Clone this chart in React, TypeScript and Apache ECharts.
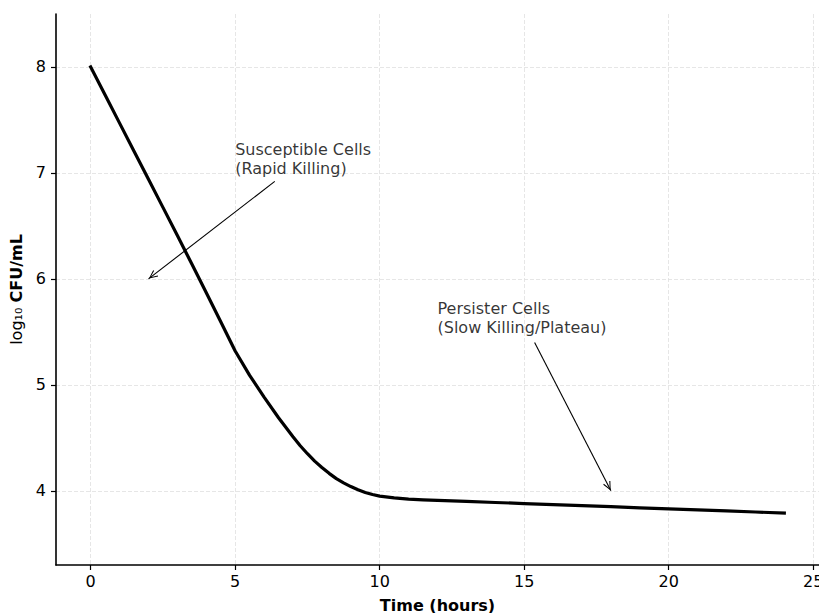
import React, { useEffect, useRef } from "react";
import * as echarts from "echarts";

const times = [0, 0.5, 1, 1.5, 2, 2.5, 3, 3.5, 4, 4.5, 5, 5.5, 6, 6.5, 7, 7.25, 7.5, 7.75, 8, 8.25, 8.5, 8.75, 9, 9.25, 9.5, 9.75, 10, 10.5, 11, 11.5, 12, 13, 14, 15, 16, 17, 18, 19, 20, 21, 22, 23, 24];
const logCfu = [8.0, 7.735, 7.47, 7.205, 6.94, 6.675, 6.41, 6.14, 5.87, 5.595, 5.32, 5.09, 4.885, 4.69, 4.51, 4.425, 4.35, 4.28, 4.22, 4.165, 4.115, 4.075, 4.04, 4.01, 3.985, 3.965, 3.95, 3.933, 3.922, 3.915, 3.91, 3.9, 3.89, 3.88, 3.87, 3.86, 3.85, 3.84, 3.83, 3.82, 3.81, 3.8, 3.79];

const xTicks = [0, 5, 10, 15, 20, 25];
const yTicks = [4, 5, 6, 7, 8];

const annotationTexts = ["Susceptible Cells\n(Rapid Killing)", "Persister Cells\n(Slow Killing/Plateau)"];
const annotationTextPos = [[5, 7.0], [12, 5.5]];
const arrowFrom = [[6.37, 6.92], [15.36, 5.4]];
const arrowTo = [[2, 6], [18, 4]];

const FONT = "DejaVu Sans";
const FS = 16;
const arrowHead = "path://M5,0 L10,10 L8.8,10.6 L5,2.4 L1.2,10.6 L0,10 Z";

export default function App() {
  const ref = useRef<HTMLDivElement>(null);
  useEffect(() => {
    if (!ref.current) return;
    const chart = echarts.init(ref.current, null, { renderer: "svg" });
    const option = {
      animation: false,
      backgroundColor: "#fff",
      grid: { left: 56, right: 0, top: 14, bottom: 48, containLabel: false, outerBoundsMode: "none" },
      xAxis: {
        type: "value",
        min: -1.2,
        max: 25.2,
        name: "Time (hours)",
        nameLocation: "middle",
        nameGap: 32,
        nameTextStyle: { fontFamily: FONT, fontSize: FS, fontWeight: "bold", color: "#000" },
        axisLine: { show: true, onZero: false, lineStyle: { color: "#000", width: 1.6 } },
        axisTick: { show: true, length: 5, lineStyle: { color: "#000", width: 1.2 }, customValues: xTicks },
        axisLabel: { fontFamily: FONT, fontSize: FS, color: "#000", margin: 8, customValues: xTicks, hideOverlap: false },
        splitLine: { show: true, lineStyle: { color: "#e0e0e0", width: 0.8, type: [4, 2] } },
      },
      yAxis: {
        type: "value",
        min: 3.3,
        max: 8.5,
        name: "log₁₀ {b|CFU/mL}",
        nameLocation: "middle",
        nameGap: 27,
        nameRotate: 90,
        nameTextStyle: {
          fontFamily: FONT,
          fontSize: FS,
          color: "#000",
          rich: { b: { fontFamily: FONT, fontSize: FS, fontWeight: "bold", color: "#000" } },
        },
        axisLine: { show: true, onZero: false, lineStyle: { color: "#000", width: 1.6 } },
        axisTick: { show: true, length: 5, lineStyle: { color: "#000", width: 1.2 }, customValues: yTicks },
        axisLabel: { fontFamily: FONT, fontSize: FS, color: "#000", margin: 10, customValues: yTicks },
        splitLine: { show: true, lineStyle: { color: "#e0e0e0", width: 0.8, type: [4, 2] } },
      },
      series: [
        {
          type: "line",
          data: times.map((t, i) => [t, logCfu[i]]),
          showSymbol: false,
          smooth: false,
          lineStyle: { color: "#000", width: 3.2, join: "round", cap: "square" },
          silent: true,
          markLine: {
            silent: true,
            animation: false,
            symbol: ["none", arrowHead],
            symbolSize: [8, 9],
            symbolOffset: [[0, 0], [0, 5]],
            lineStyle: { color: "#000", width: 1.1, type: "solid" },
            itemStyle: { color: "#000" },
            label: { show: false },
            emphasis: { disabled: true },
            data: arrowFrom.map((f, i) => [
              { coord: f },
              { coord: arrowTo[i] },
            ]),
          },
        },
        {
          type: "scatter",
          symbolSize: 0,
          silent: true,
          data: annotationTextPos.map((p, i) => [p[0], p[1], annotationTexts[i]]),
          label: {
            show: true,
            position: "right",
            distance: 0,
            align: "left",
            verticalAlign: "bottom",
            offset: [0, 5],
            fontFamily: FONT,
            fontSize: FS,
            lineHeight: 19,
            color: "#000",
            formatter: (p: any) => p.data[2],
          },
        },
      ],
    };
    chart.setOption(option as any);
    return () => chart.dispose();
  }, []);
  return (
    <div
      ref={ref}
      style={{ position: "fixed", left: 0, top: 0, width: 819, height: 613 }}
    />
  );
}
